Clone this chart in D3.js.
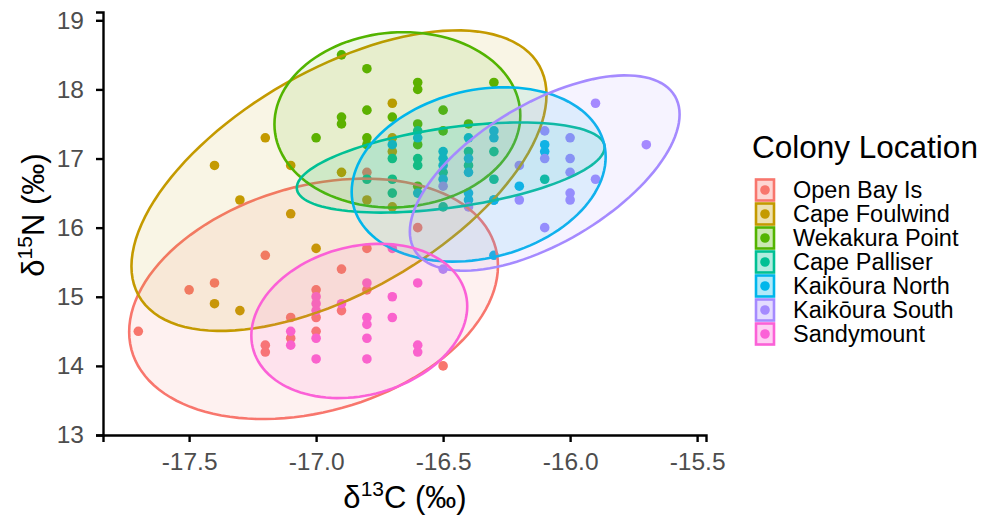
<!DOCTYPE html>
<html>
<head>
<meta charset="utf-8">
<title>Colony isotopes</title>
<script src="https://d3js.org/d3.v7.min.js"></script>
<style>
  body { margin: 0; background: #fff; }
  text { font-family: "Liberation Sans", Arial, sans-serif; }
</style>
</head>
<body>
<div id="chart"></div>
<script>
// colonies and their colours (ggplot default hue palette)
const colonies = ["Open Bay Is", "Cape Foulwind", "Wekakura Point", "Cape Palliser",
                  "Kaikōura North", "Kaikōura South", "Sandymount"];
const colors = ["#F8766D", "#C49A00", "#53B400", "#00C094", "#00B6EB", "#A58AFF", "#FB61D7"];

// [d13C, d15N] per colony
const openBay = [[-17.7,14.5],[-17.5,15.1],[-17.4,15.2],[-17.2,15.6],[-17.2,14.3],[-17.2,14.2],
  [-17.1,14.7],[-17.1,14.4],[-17.0,15.1],[-17.0,14.7],[-17.0,14.5],[-16.9,15.4],[-16.9,14.8],
  [-16.8,15.7],[-16.8,15.1],[-16.8,16.8],[-16.6,16.0],[-16.5,14.0]];
const capeFoulwind = [[-17.4,16.9],[-17.2,17.3],[-17.1,16.9],[-17.3,16.4],[-17.1,16.2],[-17.4,14.9],
  [-17.3,14.8],[-17.0,15.7],[-16.9,16.8],[-16.8,16.4],[-16.7,17.8],[-16.7,17.3],[-16.7,17.1],[-16.7,16.3]];
const wekakura = [[-17.0,17.3],[-16.9,18.5],[-16.9,17.6],[-16.9,17.5],[-16.8,18.3],[-16.8,17.7],
  [-16.8,17.3],[-16.8,17.2],[-16.7,17.6],[-16.6,18.1],[-16.6,18.0],[-16.6,17.5],[-16.6,17.2],
  [-16.6,16.6],[-16.5,17.7],[-16.5,17.4],[-16.4,17.5],[-16.3,18.1]];
const capePalliser = [[-16.8,16.7],[-16.7,17.0],[-16.7,16.7],[-16.7,16.5],[-16.6,17.4],[-16.6,17.0],
  [-16.6,16.9],[-16.5,16.8],[-16.5,16.3],[-16.4,17.1],[-16.4,16.9],[-16.3,17.1],[-16.3,16.7],
  [-16.3,16.4],[-16.1,16.7]];
const kaikouraNorth = [[-16.7,17.2],[-16.6,17.3],[-16.6,16.5],[-16.5,17.1],[-16.5,17.0],[-16.5,16.9],
  [-16.5,16.7],[-16.4,17.3],[-16.4,17.0],[-16.4,16.8],[-16.4,16.5],[-16.4,16.4],[-16.3,17.4],
  [-16.3,17.3],[-16.3,16.4],[-16.3,15.6],[-16.2,16.6],[-16.1,17.2],[-16.1,17.1]];
const kaikouraSouth = [[-16.5,16.6],[-16.5,15.4],[-16.4,16.3],[-16.2,16.9],[-16.2,16.4],[-16.1,17.4],
  [-16.1,17.0],[-16.1,16.0],[-16.0,17.3],[-16.0,17.0],[-16.0,16.8],[-16.0,16.5],[-16.0,16.4],
  [-15.9,17.8],[-15.9,16.7],[-15.7,17.2]];
const sandymount = [[-17.1,14.5],[-17.1,14.3],[-17.0,15.0],[-17.0,14.9],[-17.0,14.8],[-17.0,14.4],
  [-17.0,14.1],[-16.9,14.9],[-16.8,15.2],[-16.8,14.7],[-16.8,14.6],[-16.8,14.4],[-16.8,14.1],
  [-16.7,15.7],[-16.7,15.0],[-16.7,14.7],[-16.6,15.2],[-16.6,14.3],[-16.6,14.2]];
const points = [openBay, capeFoulwind, wekakura, capePalliser, kaikouraNorth, kaikouraSouth, sandymount];

// ellipse per colony: centre, half-ranges and correlation (data units)
const ellCx  = [-17.01, -16.91, -16.68, -16.47, -16.36, -16.10, -16.83];
const ellCy  = [14.97, 16.68, 17.56, 16.87, 16.77, 16.79, 14.65];
const ellSx  = [0.726, 0.817, 0.484, 0.606, 0.50, 0.531, 0.425];
const ellSy  = [1.739, 2.174, 1.268, 0.652, 1.261, 1.413, 1.116];
const ellRho = [0.275, 0.57, 0.05, 0.45, 0.2, 0.6, 0.19];

const xTicks = [-17.5, -17.0, -16.5, -16.0, -15.5];
const yTicks = [13, 14, 15, 16, 17, 18, 19];

const width = 987, height = 524;
const svg = d3.select("#chart").append("svg")
  .attr("width", width).attr("height", height);

const x = d3.scaleLinear().domain([-17.839, -15.465]).range([103, 706]);
const y = d3.scaleLinear().domain([13, 19.12]).range([435, 12]);

// points
points.forEach(function (pts, i) {
  svg.append("g").selectAll("circle").data(pts).enter().append("circle")
    .attr("cx", d => x(d[0]))
    .attr("cy", d => y(d[1]))
    .attr("r", 4.8)
    .attr("fill", colors[i]);
});

// ellipses
const line = d3.line().x(d => x(d[0])).y(d => y(d[1])).curve(d3.curveLinearClosed);
colonies.forEach(function (c, i) {
  const phi = Math.acos(ellRho[i]);
  const pts = d3.range(0, 120).map(function (k) {
    const t = k / 120 * 2 * Math.PI;
    return [ellCx[i] + ellSx[i] * Math.cos(t), ellCy[i] + ellSy[i] * Math.cos(t - phi)];
  });
  svg.append("path").datum(pts)
    .attr("d", line)
    .attr("fill", colors[i]).attr("fill-opacity", 0.1)
    .attr("stroke", colors[i]).attr("stroke-width", 2.6);
});

// axes
const xAxis = svg.append("g").attr("transform", "translate(0,435)")
  .call(d3.axisBottom(x).tickValues(xTicks).tickFormat(d3.format(".1f")).tickSizeOuter(0).tickSize(7).tickPadding(11));
const yAxis = svg.append("g").attr("transform", "translate(103,0)")
  .call(d3.axisLeft(y).tickValues(yTicks).tickFormat(d3.format("d")).tickSizeOuter(0).tickSize(7).tickPadding(12));
[xAxis, yAxis].forEach(function (a) {
  a.selectAll("path, line").attr("stroke", "#000").attr("stroke-width", 2.4);
  a.selectAll("text").attr("fill", "#4D4D4D").style("font-size", "24.5px")
    .style("font-family", "'Liberation Sans', Arial, sans-serif");
});
xAxis.selectAll("text").text(d => d3.format(".1f")(d).replace("−", "-"));

// axis titles
const xt = svg.append("text").attr("x", 405).attr("y", 508)
  .attr("text-anchor", "middle").style("font-size", "31px").attr("fill", "#000");
xt.append("tspan").text("δ");
xt.append("tspan").attr("dy", -12).style("font-size", "21px").text("13");
xt.append("tspan").attr("dy", 12).text("C (‰)");

const yt = svg.append("text").attr("transform", "translate(44,215) rotate(-90)")
  .attr("text-anchor", "middle").style("font-size", "31px").attr("fill", "#000");
yt.append("tspan").text("δ");
yt.append("tspan").attr("dy", -12).style("font-size", "21px").text("15");
yt.append("tspan").attr("dy", 12).text("N (‰)");

// legend
const lg = svg.append("g").attr("transform", "translate(752,0)");
lg.append("text").attr("x", 0).attr("y", 158).style("font-size", "31.5px").attr("fill", "#000")
  .text("Colony Location");
colonies.forEach(function (c, i) {
  const cy = 190 + i * 24;
  lg.append("rect").attr("x", 4).attr("y", cy - 10.5).attr("width", 18).attr("height", 21)
    .attr("fill", colors[i]).attr("fill-opacity", 0.3)
    .attr("stroke", colors[i]).attr("stroke-width", 2.6);
  lg.append("circle").attr("cx", 13).attr("cy", cy).attr("r", 4.8).attr("fill", colors[i]);
  lg.append("text").attr("x", 41).attr("y", cy + 8).style("font-size", "23.5px").attr("fill", "#000")
    .text(c);
});
</script>
</body>
</html>
